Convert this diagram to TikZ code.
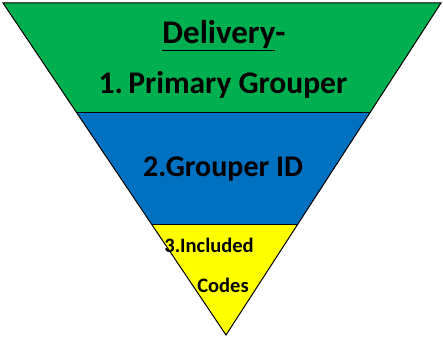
\documentclass[tikz,border=0pt]{standalone}
\usepackage{fontspec}
\setmainfont{Carlito}
\definecolor{lvgreen}{HTML}{00B050}
\definecolor{lvblue}{HTML}{0070C0}
\definecolor{lvyellow}{HTML}{FFFF00}
\begin{document}
\begin{tikzpicture}[x=1pt,y=-1pt,
  layer/.style={draw=black,line width=1pt,line join=miter},
  lbl/.style={font=\bfseries,inner sep=0pt,anchor=center}]
\useasboundingbox (0,0) rectangle (443,339);
\coordinate (tl) at (3,3);
\coordinate (tr) at (441,3);
\coordinate (ml1) at (77,113);
\coordinate (mr1) at (370,113);
\coordinate (ml2) at (152,224);
\coordinate (mr2) at (298,224);
\coordinate (apex) at (226,335);
\fill[lvgreen] (tl) -- (tr) -- (mr1) -- (ml1) -- cycle;
\fill[lvblue] (ml1) -- (mr1) -- (mr2) -- (ml2) -- cycle;
\fill[lvyellow] (ml2) -- (mr2) -- (apex) -- cycle;
\draw[layer] (tl) -- (tr) -- (apex) -- cycle;
\draw[layer] (ml1) -- (mr1);
\draw[layer] (ml2) -- (mr2);
\node[lbl,font=\fontsize{33}{38}\selectfont\bfseries] (t1) at (224,36) {\underline{Delivery}-};
\node[lbl,font=\fontsize{31.5}{36}\selectfont\bfseries] (t2) at (223,85) {1.\,Primary Grouper};
\node[lbl,font=\fontsize{30}{34}\selectfont\bfseries] (t3) at (223,169) {2.Grouper ID};
\node[lbl,font=\fontsize{20.5}{24}\selectfont\bfseries] (t4) at (209,245) {3.Included};
\node[lbl,font=\fontsize{20.5}{24}\selectfont\bfseries] (t5) at (223,285) {Codes};
\end{tikzpicture}
\end{document}
